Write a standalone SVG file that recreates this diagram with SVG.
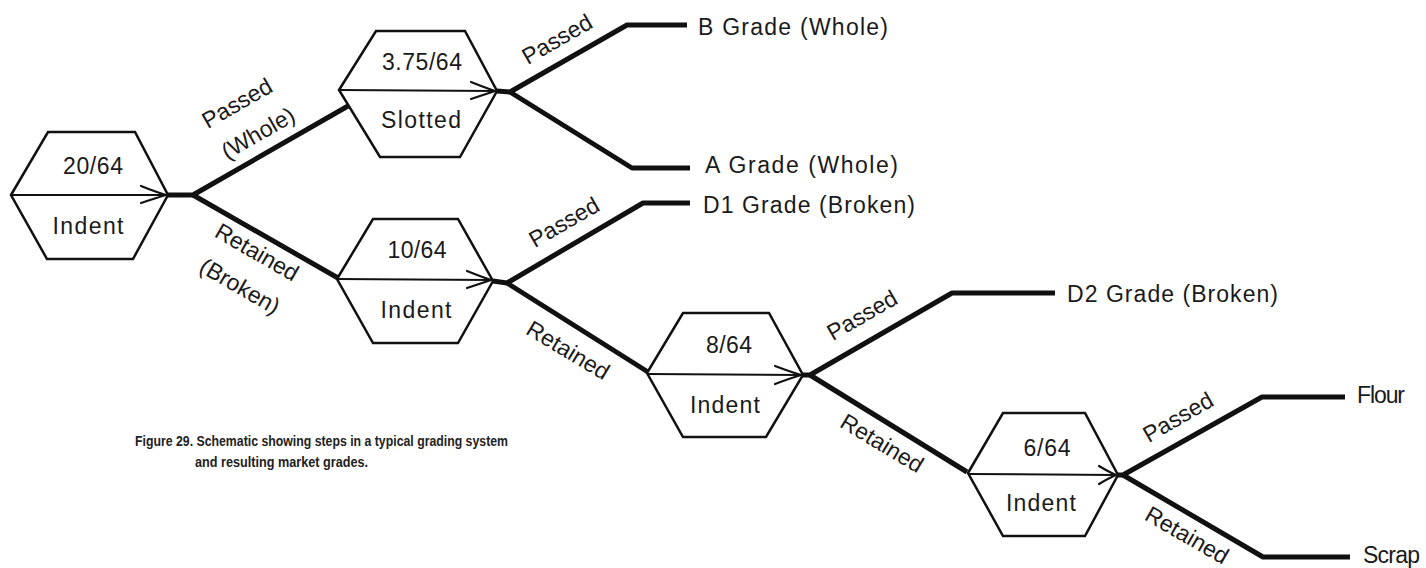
<svg xmlns="http://www.w3.org/2000/svg" width="1426" height="568" viewBox="0 0 1426 568">
<defs>
<style>
.hex{fill:#fff;stroke:#111;stroke-width:2.5;stroke-linejoin:miter}
.axis{fill:none;stroke:#111;stroke-width:2}
.ah{fill:none;stroke:#111;stroke-width:2.2;stroke-linecap:round}
.br{fill:none;stroke:#111;stroke-width:5;stroke-linejoin:round;stroke-linecap:butt}
.t{font-family:"Liberation Sans",Arial,Helvetica,sans-serif;font-size:23px;fill:#1a1a1a}
.c{font-family:"Liberation Sans Narrow","Liberation Sans",Arial,sans-serif;font-size:15px;font-weight:bold;fill:#222}
</style>
</defs>
<rect width="1426" height="568" fill="#fff"/>

<g id="connectors">
<path class="br" d="M168,195 L193,195 L348,106"/>
<path class="br" d="M193,195 L338,278"/>
<path class="br" d="M497,91 L510,92 L627,25 L687,25"/>
<path class="br" d="M510,92 L632,168 L690,168"/>
<path class="br" d="M493,281 L507,283 L643,203 L690,203"/>
<path class="br" d="M507,283 L648,372"/>
<path class="br" d="M803,375 L810,375 L952,293 L1055,293"/>
<path class="br" d="M810,375 L967,472"/>
<path class="br" d="M1118,475 L1123,475 L1262,397 L1345,397"/>
<path class="br" d="M1123,475 L1263,557 L1350,557"/>
<text class="t" transform="translate(241,110) rotate(-30)" text-anchor="middle">Passed</text>
<text class="t" transform="translate(262,140) rotate(-30)" text-anchor="middle">(Whole)</text>
<text class="t" transform="translate(253,259) rotate(30)" text-anchor="middle">Retained</text>
<text class="t" transform="translate(236,293) rotate(30)" text-anchor="middle">(Broken)</text>
<text class="t" transform="translate(561,46) rotate(-30)" text-anchor="middle">Passed</text>
<text class="t" transform="translate(568,229) rotate(-30)" text-anchor="middle">Passed</text>
<text class="t" transform="translate(564,357) rotate(31)" text-anchor="middle">Retained</text>
<text class="t" transform="translate(866,322) rotate(-30)" text-anchor="middle">Passed</text>
<text class="t" transform="translate(878,450) rotate(31)" text-anchor="middle">Retained</text>
<text class="t" transform="translate(1182,424) rotate(-30)" text-anchor="middle">Passed</text>
<text class="t" transform="translate(1183,542) rotate(30)" text-anchor="middle">Retained</text>
</g>

<g id="hex1">
<polygon class="hex" points="11,195 48,132 135,132 168,195 133,259 47,259"/>
<path class="axis" d="M11,195 L166,195"/>
<path class="ah" d="M141,186 Q156,192 166,195 Q156,198 141,203"/>
<text class="t" x="93" y="174" text-anchor="middle" textLength="60" lengthAdjust="spacing">20/64</text>
<text class="t" x="88" y="234" text-anchor="middle" textLength="71" lengthAdjust="spacing">Indent</text>
</g>

<g id="hex2">
<polygon class="hex" points="339,90 376,31 465,31 497,91 460,157 380,157"/>
<path class="axis" d="M339,90 L495,91"/>
<path class="ah" d="M471,82 Q486,88 495,91 Q486,94 471,99"/>
<text class="t" x="422" y="70" text-anchor="middle" textLength="80" lengthAdjust="spacing">3.75/64</text>
<text class="t" x="421" y="128" text-anchor="middle" textLength="80" lengthAdjust="spacing">Slotted</text>
</g>

<g id="hex3">
<polygon class="hex" points="337,279 373,219 458,219 493,281 458,343 373,343"/>
<path class="axis" d="M337,279 L491,280"/>
<path class="ah" d="M467,271 Q482,277 491,280 Q482,283 467,288"/>
<text class="t" x="417" y="258" text-anchor="middle" textLength="59" lengthAdjust="spacing">10/64</text>
<text class="t" x="416" y="318" text-anchor="middle" textLength="71" lengthAdjust="spacing">Indent</text>
</g>

<g id="hex4">
<polygon class="hex" points="647,373 683,313 769,313 803,375 766,437 683,437"/>
<path class="axis" d="M647,374 L801,375"/>
<path class="ah" d="M775,366 Q791,372 801,375 Q791,378 775,384"/>
<text class="t" x="729" y="353" text-anchor="middle" textLength="46" lengthAdjust="spacing">8/64</text>
<text class="t" x="725" y="413" text-anchor="middle" textLength="70" lengthAdjust="spacing">Indent</text>
</g>

<g id="hex5">
<polygon class="hex" points="968,473 1003,413 1085,413 1118,475 1085,536 1003,536"/>
<path class="axis" d="M968,474 L1116,475"/>
<path class="ah" d="M1099,466 Q1109,472 1116,475 Q1109,478 1099,484"/>
<text class="t" x="1047" y="456" text-anchor="middle" textLength="47" lengthAdjust="spacing">6/64</text>
<text class="t" x="1041" y="511" text-anchor="middle" textLength="70" lengthAdjust="spacing">Indent</text>
</g>

<g id="grade-b"><text class="t" x="698" y="35" textLength="190" lengthAdjust="spacing">B Grade (Whole)</text></g>
<g id="grade-a"><text class="t" x="705" y="173" textLength="193" lengthAdjust="spacing">A Grade (Whole)</text></g>
<g id="grade-d1"><text class="t" x="703" y="213" textLength="212" lengthAdjust="spacing">D1 Grade (Broken)</text></g>
<g id="grade-d2"><text class="t" x="1067" y="302" textLength="211" lengthAdjust="spacing">D2 Grade (Broken)</text></g>
<g id="flour"><text class="t" x="1357" y="403" textLength="48" lengthAdjust="spacing">Flour</text></g>
<g id="scrap"><text class="t" x="1363" y="563" textLength="57" lengthAdjust="spacing">Scrap</text></g>

<g id="caption">
<text class="c" x="135" y="446" textLength="373" lengthAdjust="spacingAndGlyphs">Figure 29. Schematic showing steps in a typical grading system</text>
<text class="c" x="195" y="467" textLength="173" lengthAdjust="spacingAndGlyphs">and resulting market grades.</text>
</g>
</svg>
